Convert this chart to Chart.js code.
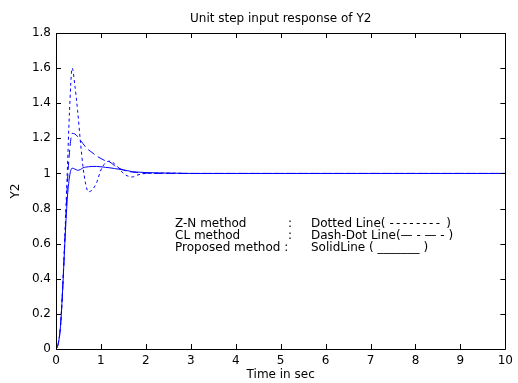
<!DOCTYPE html>
<html>
<head>
<meta charset="utf-8">
<script src="https://cdn.jsdelivr.net/npm/chart.js@4.4.1/dist/chart.umd.min.js"></script>
<style>
  html, body { margin: 0; padding: 0; background: #fff; }
  canvas { display: block; }
</style>
</head>
<body>
<canvas id="stepChart" width="518" height="383"></canvas>
<script>
// time samples (sec)
const time = [0, 0.05, 0.1, 0.15, 0.2, 0.25, 0.3, 0.36, 0.42, 0.48, 0.54, 0.6, 0.66, 0.72, 0.8, 0.9,
  1.0, 1.1, 1.2, 1.3, 1.4, 1.5, 1.6, 1.7, 1.8, 2.0, 2.5, 3, 4, 5, 6, 7, 8, 9, 10];

// Z-N method (dotted)
const znResp = [0, 0.03, 0.13, 0.36, 0.66, 1.0, 1.35, 1.60, 1.50, 1.36, 1.19, 1.04, 0.94, 0.895, 0.905, 0.945,
  1.02, 1.06, 1.07, 1.055, 1.03, 1.0, 0.985, 0.98, 0.99, 1.0, 1.002, 1.0, 1.0, 1.0, 1.0, 1.0, 1.0, 1.0, 1.0];

// CL method (dashed)
const clResp = [0, 0.03, 0.13, 0.35, 0.64, 0.93, 1.12, 1.228, 1.225, 1.21, 1.19, 1.17, 1.15, 1.135, 1.12, 1.10,
  1.085, 1.072, 1.065, 1.045, 1.03, 1.02, 1.012, 1.008, 1.005, 1.002, 1.0, 1.0, 1.0, 1.0, 1.0, 1.0, 1.0, 1.0, 1.0];

// Proposed method (solid)
const propResp = [0, 0.03, 0.13, 0.35, 0.62, 0.85, 0.98, 1.03, 1.025, 1.018, 1.022, 1.032, 1.036, 1.038, 1.04, 1.04,
  1.038, 1.035, 1.032, 1.028, 1.024, 1.02, 1.015, 1.01, 1.008, 1.005, 1.002, 1.0, 1.0, 1.0, 1.0, 1.0, 1.0, 1.0, 1.0];

const xTicks = [0, 1, 2, 3, 4, 5, 6, 7, 8, 9, 10];
const yTicks = [0, 0.2, 0.4, 0.6, 0.8, 1, 1.2, 1.4, 1.6, 1.8];
const yLabels = ["0", "0.2", "0.4", "0.6", "0.8", "1", "1.2", "1.4", "1.6", "1.8"];

const titleText = "Unit step input response of Y2";
const noteLeft = ["Z-N method", "CL method", "Proposed method :"];
const noteRight = ["Dotted Line(", "Dash-Dot Line(\u2014 - \u2014 - )", "SolidLine ( _______ )"];

const toPts = arr => time.map((t, i) => ({ x: t, y: arr[i] }));

Chart.defaults.font.family = "DejaVu Sans";
Chart.defaults.font.size = 12;
Chart.defaults.color = "#000";

// box round the axes with inward tick marks, title and text note
const axesBox = {
  id: "axesBox",
  afterDraw(chart) {
    const { ctx, chartArea: a, scales: { x, y } } = chart;
    ctx.save();
    ctx.strokeStyle = "#000";
    ctx.lineWidth = 1;
    ctx.beginPath();
    ctx.rect(Math.round(a.left) + 0.5, Math.round(a.top) + 0.5,
      Math.round(a.right - a.left), Math.round(a.bottom - a.top));
    xTicks.forEach(v => {
      const px = Math.round(x.getPixelForValue(v)) + 0.5;
      ctx.moveTo(px, a.bottom); ctx.lineTo(px, a.bottom - 5);
      ctx.moveTo(px, a.top); ctx.lineTo(px, a.top + 5);
    });
    yTicks.forEach(v => {
      const py = Math.round(y.getPixelForValue(v)) + 0.5;
      ctx.moveTo(a.left, py); ctx.lineTo(a.left + 5, py);
      ctx.moveTo(a.right, py); ctx.lineTo(a.right - 5, py);
    });
    ctx.stroke();

    ctx.fillStyle = "#000";
    ctx.font = "12px 'DejaVu Sans'";
    ctx.textAlign = "center";
    ctx.textBaseline = "alphabetic";
    ctx.fillText(titleText, (a.left + a.right) / 2, 22);

    ctx.textAlign = "left";
    const rowY = [226.5, 239, 251];
    noteLeft.forEach((s, i) => ctx.fillText(s, 175, rowY[i]));
    ctx.fillText(":", 288, rowY[0]);
    ctx.fillText(":", 288, rowY[1]);
    noteRight.forEach((s, i) => ctx.fillText(s, 311, rowY[i]));
    // spaced dashes of the first row
    let dx = 311 + ctx.measureText(noteRight[0]).width + 4;
    for (let k = 0; k < 8; k++) {
      ctx.fillText("-", dx, rowY[0]);
      dx += 6.6;
    }
    ctx.fillText(")", dx + 4, rowY[0]);
    ctx.restore();
  }
};

new Chart(document.getElementById("stepChart"), {
  type: "line",
  data: {
    datasets: [
      {
        label: "Z-N method",
        data: toPts(znResp),
        borderColor: "#0000ff",
        borderWidth: 1,
        borderDash: [3, 3],
      },
      {
        label: "CL method",
        data: toPts(clResp),
        borderColor: "#0000ff",
        borderWidth: 1,
        borderDash: [8, 4],
      },
      {
        label: "Proposed method",
        data: toPts(propResp),
        borderColor: "#0000ff",
        borderWidth: 1,
      },
    ],
  },
  options: {
    responsive: false,
    animation: false,
    cubicInterpolationMode: "monotone",
    elements: { point: { radius: 0 } },
    layout: { padding: { left: 0, right: 9, top: 33, bottom: 0 } },
    plugins: {
      legend: { display: false },
      tooltip: { enabled: false },
      title: { display: false },
    },
    scales: {
      x: {
        type: "linear",
        min: 0,
        max: 10,
        grid: { display: false, drawTicks: false },
        border: { display: false },
        afterBuildTicks: s => { s.ticks = xTicks.map(v => ({ value: v })); },
        afterFit: s => { s.height = 34; },
        ticks: { padding: 5, maxRotation: 0 },
        title: { display: true, text: "Time in sec", padding: { top: 0, bottom: 1 } },
      },
      y: {
        min: 0,
        max: 1.8,
        grid: { display: false, drawTicks: false },
        border: { display: false },
        afterBuildTicks: s => { s.ticks = yTicks.map(v => ({ value: v })); },
        afterFit: s => { s.width = 56; },
        ticks: { padding: 5, callback: (v, i) => yLabels[i] },
        title: { display: true, text: "Y2", padding: { top: 9, bottom: 0 } },
      },
    },
  },
  plugins: [axesBox],
});
</script>
</body>
</html>
